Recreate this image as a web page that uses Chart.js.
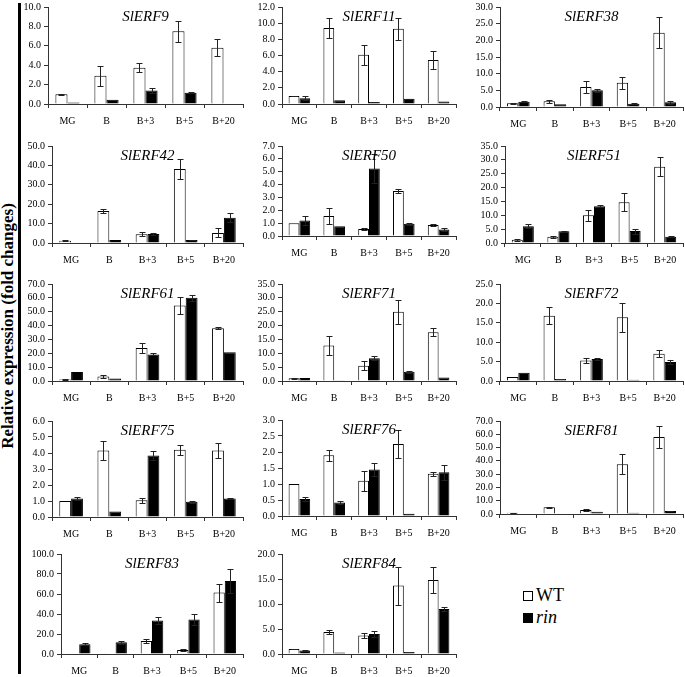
<!DOCTYPE html>
<html>
<head>
  <meta charset="utf-8">
  <title>SlERF expression in WT and rin</title>
  <style>
    body {
      margin: 0;
      background: #fff;
      width: 685px;
      height: 677px;
      position: relative;
      overflow: hidden;
      font-family: 'Liberation Serif', 'Times New Roman', serif;
      color: #000;
    }

    canvas.panel {
      position: absolute;
    }

    /* thick rule on the left */
    .side-bar {
      position: absolute;
      left: 18px;
      top: 3px;
      width: 3px;
      height: 671px;
      background: #000;
    }

    .axis-label {
      position: absolute;
      left: 8px;
      top: 326px;
      transform: translate(-50%, -50%) rotate(-90deg);
      white-space: nowrap;
      font-weight: bold;
      font-size: 17px;
    }

    .legend {
      position: absolute;
      left: 523px;
      top: 584px;
      font-size: 18px;
      line-height: 22px;
    }

    .legend .box {
      display: inline-block;
      width: 8px;
      height: 8px;
      border: 1px solid #000;
      margin-right: 3px;
    }
  </style>
</head>
<body>

  <div class="side-bar"></div>
  <div class="axis-label">Relative expression (fold changes)</div>
  <div class="legend">
    <div><span class="box" style="background:#fff"></span>WT</div>
    <div><span class="box" style="background:#000"></span><i>rin</i></div>
  </div>

  <script src="https://cdn.jsdelivr.net/npm/chart.js"></script>

  <script>
    const stages = ['MG', 'B', 'B+3', 'B+5', 'B+20'];
    const genes = ['SlERF9', 'SlERF11', 'SlERF38', 'SlERF42', 'SlERF50', 'SlERF51', 'SlERF61',
                   'SlERF71', 'SlERF72', 'SlERF75', 'SlERF76', 'SlERF81', 'SlERF83', 'SlERF84'];
    const yMax = [10, 12, 30, 50, 7, 35, 70, 35, 25, 6, 3, 70, 100, 20];
    const yStep = [2, 2, 5, 10, 1, 5, 10, 5, 5, 1, 0.5, 10, 20, 5];

    const wtMean = [
      [1.0, 2.9, 3.75, 7.5, 5.8],
      [1.0, 9.4, 6.1, 9.3, 5.45],
      [1.1, 1.7, 6.0, 7.3, 22.3],
      [1.2, 16.5, 4.5, 38.2, 5.2],
      [1.0, 1.55, 0.55, 3.5, 0.85],
      [1.2, 2.3, 10.0, 14.7, 27.5],
      [1.0, 3.2, 23.8, 54.5, 38.0],
      [1.0, 12.8, 5.5, 25.0, 17.6],
      [1.0, 16.8, 5.3, 16.4, 7.0],
      [1.0, 4.15, 1.05, 4.2, 4.15],
      [1.0, 1.9, 1.1, 2.25, 1.32],
      [1.0, 5.0, 3.0, 37.5, 58.0],
      [0.8, 0.8, 13.0, 4.0, 61.5],
      [1.0, 4.4, 3.7, 13.7, 14.8]
    ];
    const wtErr = [
      [0.05, 1.0, 0.5, 1.1, 0.85],
      [0.05, 1.2, 1.25, 1.35, 1.15],
      [0.2, 0.5, 1.7, 1.8, 4.7],
      [0.3, 1.2, 1.0, 5.3, 2.3],
      [0, 0.65, 0.08, 0.15, 0.07],
      [0.3, 0.4, 2.0, 3.3, 3.5],
      [0.1, 0.8, 3.5, 6.0, 0.8],
      [0.1, 3.3, 1.6, 4.4, 1.5],
      [0, 2.2, 0.6, 3.7, 0.9],
      [0, 0.6, 0.15, 0.3, 0.45],
      [0, 0.17, 0.32, 0.45, 0.06],
      [0.1, 0.4, 0.6, 7.5, 8.0],
      [0, 0, 1.8, 0.8, 9.0],
      [0.05, 0.4, 0.5, 3.8, 2.7]
    ];
    const rinMean = [
      [0.15, 0.45, 1.4, 1.15, 0.05],
      [0.7, 0.45, 0.25, 0.65, 0.3],
      [1.6, 0.8, 5.0, 1.0, 1.4],
      [0.3, 1.6, 4.7, 1.5, 13.0],
      [1.2, 0.75, 5.25, 0.95, 0.5],
      [6.0, 4.2, 13.3, 4.3, 2.3],
      [6.5, 1.8, 19.2, 60.0, 20.8],
      [1.1, 0.3, 8.2, 3.3, 1.3],
      [2.1, 0.5, 5.7, 0.3, 4.9],
      [1.15, 0.35, 3.85, 0.95, 1.15],
      [0.53, 0.42, 1.45, 0.07, 1.37],
      [0.3, 0.3, 1.7, 1.0, 2.2],
      [9.8, 11.8, 33.5, 34.5, 73.0],
      [0.7, 0.3, 4.0, 0.4, 9.0]
    ];
    const rinErr = [
      [0, 0, 0.3, 0.05, 0],
      [0.25, 0, 0.05, 0.03, 0],
      [0.2, 0, 0.5, 0.1, 0.4],
      [0, 0, 0.6, 0.2, 2.4],
      [0.35, 0, 1.1, 0.1, 0.1],
      [0.7, 0.3, 0.3, 0.9, 0.2],
      [0, 0, 0.7, 2.2, 0],
      [0, 0, 0.7, 0.3, 0],
      [0, 0, 0.2, 0, 0.6],
      [0.08, 0, 0.3, 0.05, 0.03],
      [0.05, 0.06, 0.2, 0, 0.23],
      [0, 0, 0, 0, 0.3],
      [1.2, 1.5, 3.8, 5.2, 12.0],
      [0.1, 0, 0.6, 0, 0.4]
    ];

    // panel geometry: y-axis x, plot top and plot height for each panel
    const axisX   = [48, 282, 500,  52, 282, 505,  52, 282, 500,  52, 282, 500,  61, 282];
    const plotTop = [6, 6, 6,  145, 145, 145,  283, 283, 283,  420, 419, 420,  553, 553];
    const plotH   = [98, 98, 101,  98, 91, 98,  98, 98, 98,  97, 97, 94,  101, 101];
    const colRight = [243, 456, 683];
    const YW = 38, XH = 28, PT = 8, PR = 2;
    const FONT = "'Liberation Serif', 'Times New Roman', serif";

    // +/- error bars with caps
    const errorBars = {
      id: 'errorBars',
      afterDatasetsDraw(chart) {
        const ctx = chart.ctx;
        const y = chart.scales.y;
        ctx.save();
        ctx.strokeStyle = '#222';
        ctx.lineWidth = 1;
        chart.data.datasets.forEach((ds, di) => {
          chart.getDatasetMeta(di).data.forEach((bar, k) => {
            const e = ds.errors[k];
            if (!e) return;
            const v = ds.data[k];
            const x = Math.round(bar.x) + 0.5;
            const top = Math.round(y.getPixelForValue(v + e)) + 0.5;
            const bot = Math.round(y.getPixelForValue(Math.max(0, v - e))) + 0.5;
            ctx.beginPath();
            ctx.moveTo(x, top); ctx.lineTo(x, bot);
            ctx.moveTo(x - 3, top); ctx.lineTo(x + 3, top);
            ctx.moveTo(x - 3, bot); ctx.lineTo(x + 3, bot);
            ctx.stroke();
          });
        });
        ctx.restore();
      }
    };

    const panelTitle = {
      id: 'panelTitle',
      afterDraw(chart, args, opts) {
        const { ctx, chartArea } = chart;
        ctx.save();
        ctx.font = 'italic 15px ' + FONT;
        ctx.fillStyle = '#000';
        ctx.textAlign = 'center';
        ctx.textBaseline = 'top';
        ctx.fillText(opts.text, (chartArea.left + chartArea.right) / 2, chartArea.top + 3);
        ctx.restore();
      }
    };

    genes.forEach((gene, i) => {
      const col = i % 3;
      const plotW = colRight[col] - axisX[i];
      const canvas = document.createElement('canvas');
      canvas.className = 'panel';
      canvas.width = YW + plotW + PR;
      canvas.height = PT + plotH[i] + XH;
      canvas.style.left = (axisX[i] - YW) + 'px';
      canvas.style.top = (plotTop[i] - PT) + 'px';
      document.body.appendChild(canvas);

      new Chart(canvas, {
        type: 'bar',
        data: {
          labels: stages,
          datasets: [
            {
              label: 'WT', data: wtMean[i], errors: wtErr[i],
              backgroundColor: '#fff', borderColor: '#000', borderWidth: 1,
              categoryPercentage: 0.62, barPercentage: 1
            },
            {
              label: 'rin', data: rinMean[i], errors: rinErr[i],
              backgroundColor: '#000', borderColor: '#000', borderWidth: 1,
              categoryPercentage: 0.62, barPercentage: 1
            }
          ]
        },
        options: {
          responsive: false,
          animation: false,
          devicePixelRatio: 1,
          layout: { padding: { top: PT, right: PR, left: 0, bottom: 0 } },
          plugins: {
            legend: { display: false },
            tooltip: { enabled: false },
            panelTitle: { text: gene }
          },
          scales: {
            x: {
              grid: { display: true, drawOnChartArea: false, tickLength: 4, color: '#333', offset: true },
              border: { color: '#333' },
              ticks: { font: { family: FONT, size: 10 }, color: '#000', padding: 7, maxRotation: 0, autoSkip: false },
              afterFit(s) { s.height = XH; }
            },
            y: {
              min: 0,
              max: yMax[i],
              grid: { drawOnChartArea: false, tickLength: 4, color: '#333' },
              border: { color: '#333' },
              ticks: {
                stepSize: yStep[i],
                autoSkip: false,
                font: { family: FONT, size: 10 },
                color: '#000',
                padding: 3,
                callback: v => v.toFixed(1)
              },
              afterFit(s) { s.width = YW; }
            }
          }
        },
        plugins: [errorBars, panelTitle]
      });
    });
  </script>
</body>
</html>
